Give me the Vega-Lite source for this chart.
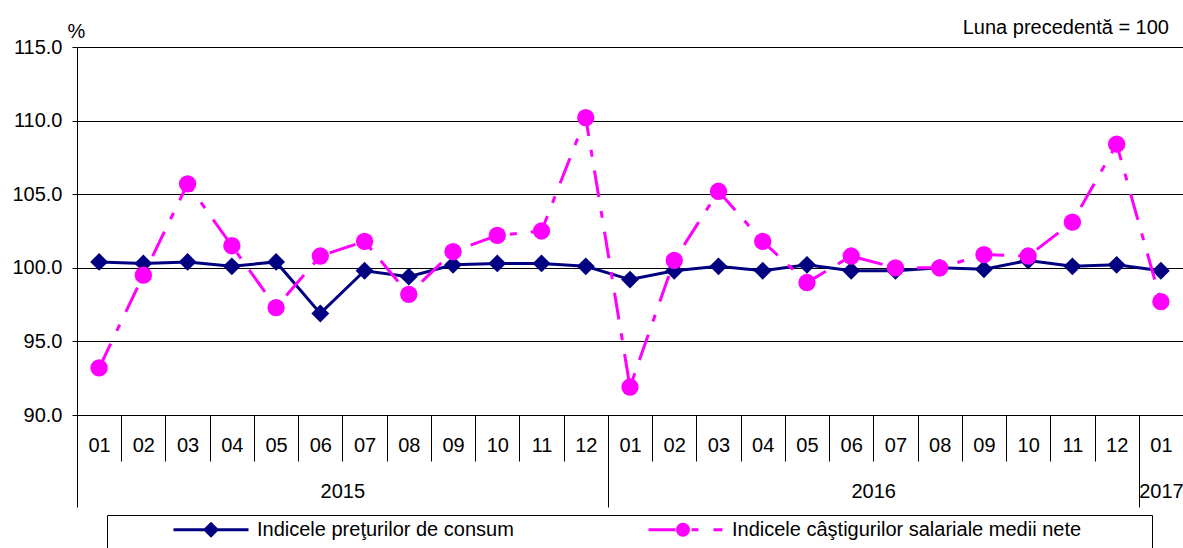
{
  "$schema": "https://vega.github.io/schema/vega-lite/v6.json",
  "width": 1106,
  "height": 368,
  "autosize": {"type": "none"},
  "padding": {"left": 77, "top": 47, "right": 0, "bottom": 133},
  "background": "white",
  "config": {"view": {"stroke": null}, "font": "Liberation Sans"},
  "title": {"text": "Luna precedentă = 100", "anchor": "end", "frame": "group", "orient": "top", "fontSize": 20, "fontWeight": "normal", "color": "black", "font": "Liberation Sans", "offset": 11, "dx": -14, "dy": 28},
  "data": {"values": [
    {"date": "2015-01", "series": "Indicele preţurilor de consum", "value": 100.4},
    {"date": "2015-02", "series": "Indicele preţurilor de consum", "value": 100.3},
    {"date": "2015-03", "series": "Indicele preţurilor de consum", "value": 100.4},
    {"date": "2015-04", "series": "Indicele preţurilor de consum", "value": 100.1},
    {"date": "2015-05", "series": "Indicele preţurilor de consum", "value": 100.4},
    {"date": "2015-06", "series": "Indicele preţurilor de consum", "value": 96.9},
    {"date": "2015-07", "series": "Indicele preţurilor de consum", "value": 99.8},
    {"date": "2015-08", "series": "Indicele preţurilor de consum", "value": 99.4},
    {"date": "2015-09", "series": "Indicele preţurilor de consum", "value": 100.2},
    {"date": "2015-10", "series": "Indicele preţurilor de consum", "value": 100.3},
    {"date": "2015-11", "series": "Indicele preţurilor de consum", "value": 100.3},
    {"date": "2015-12", "series": "Indicele preţurilor de consum", "value": 100.1},
    {"date": "2016-01", "series": "Indicele preţurilor de consum", "value": 99.2},
    {"date": "2016-02", "series": "Indicele preţurilor de consum", "value": 99.8},
    {"date": "2016-03", "series": "Indicele preţurilor de consum", "value": 100.1},
    {"date": "2016-04", "series": "Indicele preţurilor de consum", "value": 99.8},
    {"date": "2016-05", "series": "Indicele preţurilor de consum", "value": 100.2},
    {"date": "2016-06", "series": "Indicele preţurilor de consum", "value": 99.8},
    {"date": "2016-07", "series": "Indicele preţurilor de consum", "value": 99.8},
    {"date": "2016-08", "series": "Indicele preţurilor de consum", "value": 100.0},
    {"date": "2016-09", "series": "Indicele preţurilor de consum", "value": 99.9},
    {"date": "2016-10", "series": "Indicele preţurilor de consum", "value": 100.5},
    {"date": "2016-11", "series": "Indicele preţurilor de consum", "value": 100.1},
    {"date": "2016-12", "series": "Indicele preţurilor de consum", "value": 100.2},
    {"date": "2017-01", "series": "Indicele preţurilor de consum", "value": 99.8},
    {"date": "2015-01", "series": "Indicele câştigurilor salariale medii nete", "value": 93.2},
    {"date": "2015-02", "series": "Indicele câştigurilor salariale medii nete", "value": 99.5},
    {"date": "2015-03", "series": "Indicele câştigurilor salariale medii nete", "value": 105.7},
    {"date": "2015-04", "series": "Indicele câştigurilor salariale medii nete", "value": 101.5},
    {"date": "2015-05", "series": "Indicele câştigurilor salariale medii nete", "value": 97.3},
    {"date": "2015-06", "series": "Indicele câştigurilor salariale medii nete", "value": 100.8},
    {"date": "2015-07", "series": "Indicele câştigurilor salariale medii nete", "value": 101.8},
    {"date": "2015-08", "series": "Indicele câştigurilor salariale medii nete", "value": 98.2},
    {"date": "2015-09", "series": "Indicele câştigurilor salariale medii nete", "value": 101.1},
    {"date": "2015-10", "series": "Indicele câştigurilor salariale medii nete", "value": 102.2},
    {"date": "2015-11", "series": "Indicele câştigurilor salariale medii nete", "value": 102.5},
    {"date": "2015-12", "series": "Indicele câştigurilor salariale medii nete", "value": 110.2},
    {"date": "2016-01", "series": "Indicele câştigurilor salariale medii nete", "value": 91.9},
    {"date": "2016-02", "series": "Indicele câştigurilor salariale medii nete", "value": 100.5},
    {"date": "2016-03", "series": "Indicele câştigurilor salariale medii nete", "value": 105.2},
    {"date": "2016-04", "series": "Indicele câştigurilor salariale medii nete", "value": 101.8},
    {"date": "2016-05", "series": "Indicele câştigurilor salariale medii nete", "value": 99.0},
    {"date": "2016-06", "series": "Indicele câştigurilor salariale medii nete", "value": 100.8},
    {"date": "2016-07", "series": "Indicele câştigurilor salariale medii nete", "value": 100.0},
    {"date": "2016-08", "series": "Indicele câştigurilor salariale medii nete", "value": 100.0},
    {"date": "2016-09", "series": "Indicele câştigurilor salariale medii nete", "value": 100.9},
    {"date": "2016-10", "series": "Indicele câştigurilor salariale medii nete", "value": 100.8},
    {"date": "2016-11", "series": "Indicele câştigurilor salariale medii nete", "value": 103.1},
    {"date": "2016-12", "series": "Indicele câştigurilor salariale medii nete", "value": 108.4},
    {"date": "2017-01", "series": "Indicele câştigurilor salariale medii nete", "value": 97.7}
  ]},
  "resolve": {"axis": {"x": "independent"}},
  "encoding": {
    "y": {"field": "value", "type": "quantitative",
      "scale": {"domain": [90, 115], "nice": false, "zero": false},
      "axis": {"values": [90, 95, 100, 105, 110, 115], "format": ".1f", "title": "%", "titleAngle": 0, "titleX": -10, "titleY": -10, "titleAlign": "left", "titleBaseline": "alphabetic", "titleFontSize": 20, "titleFontWeight": "normal", "titleColor": "black", "labelFontSize": 20, "labelColor": "black", "labelPadding": 10, "tickSize": 5, "tickColor": "black", "domainColor": "black", "grid": true, "gridColor": "black", "gridOpacity": 1}}
  },
  "layer": [
    {
      "transform": [{"filter": "indexof(datum.series, 'consum') >= 0"}],
      "mark": {"type": "line", "color": "#000080", "strokeWidth": 3},
      "encoding": {
        "x": {"field": "date", "type": "ordinal", "sort": null,
          "scale": {"type": "band", "paddingInner": 0, "paddingOuter": 0},
          "axis": {"title": null, "labelExpr": "datum.value ? substring(datum.value, 5, 7) : ''", "tickBand": "extent", "tickSize": 46, "labelPadding": -16, "labelBaseline": "middle", "labelFontSize": 20, "labelAngle": 0, "labelColor": "black", "labelOverlap": false, "domainColor": "black", "tickColor": "black", "grid": false}}
      }
    },
    {
      "transform": [{"filter": "indexof(datum.series, 'consum') >= 0"}],
      "mark": {"type": "point", "shape": "diamond", "filled": true, "opacity": 1, "color": "#000080", "size": 320},
      "encoding": {
        "x": {"field": "date", "type": "ordinal", "sort": null, "axis": null}
      }
    },
    {
      "transform": [{"filter": "indexof(datum.series, 'consum') < 0"}],
      "mark": {"type": "line", "color": "#FF00FF", "strokeWidth": 3, "strokeDash": [27, 14, 7, 14]},
      "encoding": {
        "x": {"field": "date", "type": "ordinal", "sort": null,
          "axis": {"orient": "bottom", "title": null, "domain": false, "grid": false, "tickBand": "extent", "tickSize": 92, "tickColor": "black",
            "tickOpacity": {"condition": {"test": "!datum.value || datum.value == '2015-12' || datum.value == '2016-12'", "value": 1}, "value": 0},
            "labelExpr": "datum.value == '2015-06' ? '2015' : datum.value == '2016-06' ? '2016' : datum.value == '2017-01' ? '2017' : ''",
            "labelOffset": {"condition": {"test": "datum.value == '2017-01'", "value": 0}, "value": 22},
            "labelPadding": -16, "labelBaseline": "middle", "labelFontSize": 20, "labelAngle": 0, "labelColor": "black", "labelOverlap": false, "labelBound": false}}
      }
    },
    {
      "transform": [{"filter": "indexof(datum.series, 'consum') < 0"}],
      "mark": {"type": "point", "shape": "circle", "filled": true, "opacity": 1, "size": 300},
      "encoding": {
        "x": {"field": "date", "type": "ordinal", "sort": null, "axis": null},
        "color": {"field": "series", "type": "nominal",
          "scale": {"domain": ["Indicele preţurilor de consum", "Indicele câştigurilor salariale medii nete"], "range": ["#000080", "#FF00FF"]},
          "legend": {"orient": "none", "legendX": 30, "legendY": 468, "direction": "horizontal", "columns": 2, "columnPadding": 128,
            "title": "\u00a0", "titleOrient": "left", "titlePadding": 62, "titleFontSize": 11,
            "strokeColor": "black", "fillColor": "white", "padding": 3,
            "symbolSize": 400, "symbolStrokeWidth": 3, "symbolOpacity": 1,
            "labelFontSize": 20, "labelColor": "black", "labelOffset": 62, "labelLimit": 0,
            "encode": {"symbols": {"update": {
              "shape": {"signal": "indexof(datum.value, 'consum') >= 0 ? 'M-1,0L6.5,0M2.75,-0.6L3.35,0L2.75,0.6L2.15,0ZM-1,4L-1,4' : 'M-1,0L1.7,0M3.3,0L4,0M5.5,0L6.4,0M3,0A0.55,0.55 0 1 1 1.9,0A0.55,0.55 0 1 1 3,0ZM48.4,4L48.4,4'"},
              "fill": {"signal": "indexof(datum.value, 'consum') >= 0 ? '#000080' : '#FF00FF'"},
              "stroke": {"signal": "indexof(datum.value, 'consum') >= 0 ? '#000080' : '#FF00FF'"},
              "strokeWidth": {"value": 3},
              "strokeCap": {"value": "butt"},
              "opacity": {"value": 1}
            }}}
          }}
      }
    }
  ]
}
